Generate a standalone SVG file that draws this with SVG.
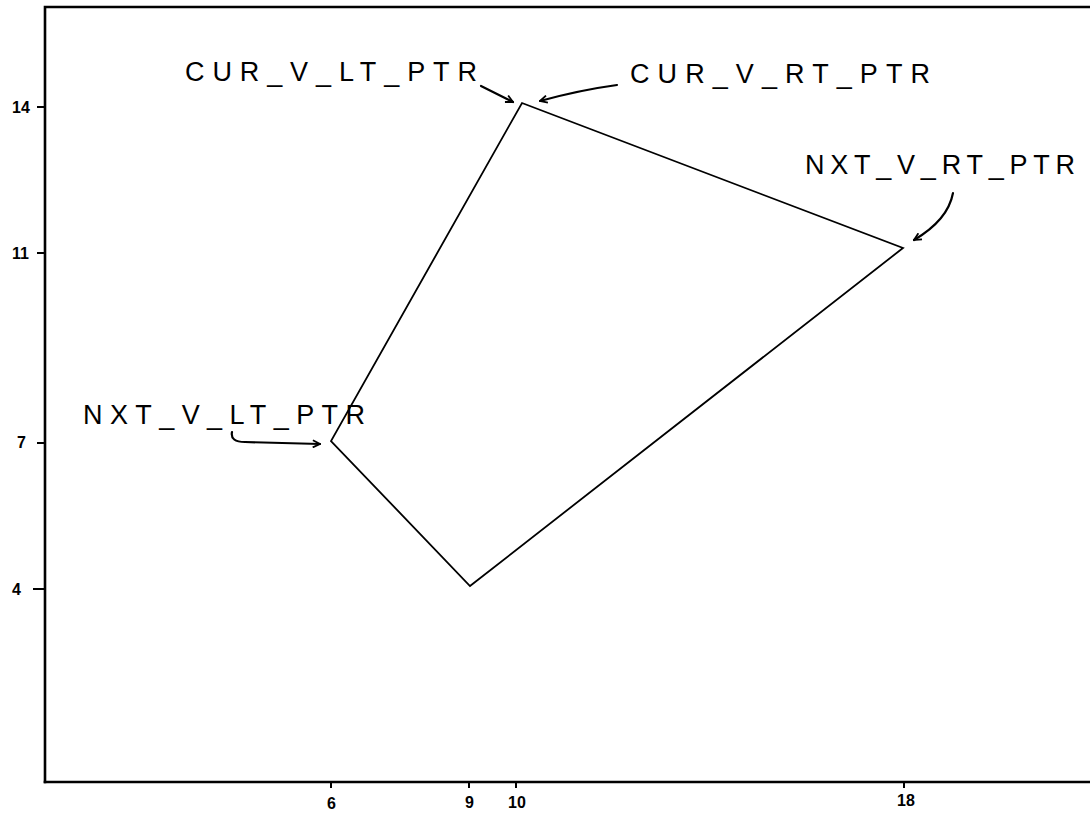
<svg xmlns="http://www.w3.org/2000/svg" width="1090" height="819" viewBox="0 0 1090 819">
<style>
.frame{fill:none;stroke:#000;stroke-width:2.6;stroke-linecap:square}
.tick{stroke:#000;stroke-width:2}
.poly{fill:none;stroke:#000;stroke-width:1.8;stroke-linejoin:miter}
.arr{fill:none;stroke:#000;stroke-width:2.2;stroke-linecap:round}
.lbl{font-family:"Liberation Sans",Arial,sans-serif;font-size:27px;fill:#000}
.num{font-family:"Liberation Sans",Arial,sans-serif;font-size:16px;font-weight:bold;fill:#000}
</style>
<defs>
<marker id="ah" viewBox="0 0 10 10" refX="9" refY="5" markerWidth="9" markerHeight="9" markerUnits="userSpaceOnUse" orient="auto">
<path d="M1,1 L9,5 L1,9" fill="none" stroke="#000" stroke-width="2"/>
</marker>
</defs>
<rect width="1090" height="819" fill="#fff"/>
<g id="axes">
<path class="frame" d="M45,782 L45,7 L1090,7"/>
<path class="frame" d="M45,782 L1090,782"/>
<line class="tick" x1="37" y1="107" x2="45" y2="107"/>
<line class="tick" x1="37" y1="253" x2="45" y2="253"/>
<line class="tick" x1="37" y1="443" x2="45" y2="443"/>
<line class="tick" x1="33" y1="589" x2="45" y2="589"/>
<line class="tick" x1="331" y1="782" x2="331" y2="788"/>
<line class="tick" x1="469" y1="782" x2="469" y2="788"/>
<line class="tick" x1="516" y1="782" x2="516" y2="788"/>
<line class="tick" x1="904" y1="782" x2="904" y2="788"/>
<text class="num" x="12" y="113">14</text>
<text class="num" x="12" y="259">11</text>
<text class="num" x="17" y="448">7</text>
<text class="num" x="12" y="595">4</text>
<text class="num" x="327" y="809">6</text>
<text class="num" x="465" y="808">9</text>
<text class="num" x="508" y="808">10</text>
<text class="num" x="897" y="806">18</text>
</g>
<g id="polygon">
<path class="poly" d="M522,103 L903,248 L470,586 L331,441 Z"/>
</g>
<g id="connectors">
<path class="arr" marker-end="url(#ah)" d="M481,86 L513,102"/>
<path class="arr" marker-end="url(#ah)" d="M617,85 Q580,90 540,101"/>
<path class="arr" marker-end="url(#ah)" d="M953,193 Q948,220 914,240"/>
<path class="arr" marker-end="url(#ah)" d="M232,432 Q230,442 245,442 L320,444"/>
</g>
<g id="label-cur-lt">
<text class="lbl" x="185" y="81" textLength="292" lengthAdjust="spacing">CUR_V_LT_PTR</text>
</g>
<g id="label-cur-rt">
<text class="lbl" x="630" y="83" textLength="300" lengthAdjust="spacing">CUR_V_RT_PTR</text>
</g>
<g id="label-nxt-rt">
<text class="lbl" x="805" y="174" textLength="270" lengthAdjust="spacing">NXT_V_RT_PTR</text>
</g>
<g id="label-nxt-lt">
<text class="lbl" x="83" y="424" textLength="282" lengthAdjust="spacing">NXT_V_LT_PTR</text>
</g>
</svg>
